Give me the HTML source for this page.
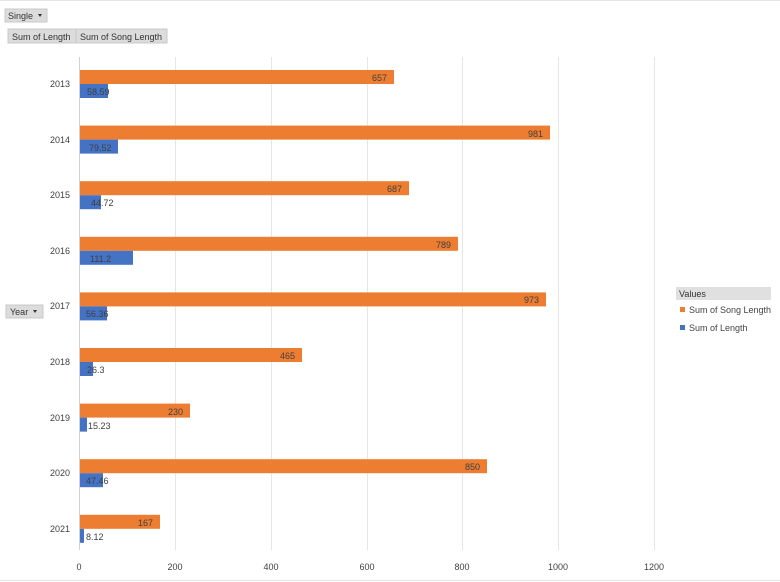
<!DOCTYPE html>
<html><head><meta charset="utf-8"><style>
html,body{margin:0;padding:0;background:#fff;}
svg{display:block;font-family:"Liberation Sans",sans-serif;}
</style></head><body>
<svg width="780" height="582" viewBox="0 0 780 582" xmlns="http://www.w3.org/2000/svg">
<rect width="780" height="582" fill="#fff"/>
<g stroke="#e6e6e6" stroke-width="1">
<line x1="0" y1="0.5" x2="780" y2="0.5"/>
<line x1="0" y1="580.5" x2="780" y2="580.5"/>
<line x1="175.5" y1="57" x2="175.5" y2="550"/>
<line x1="271.5" y1="57" x2="271.5" y2="550"/>
<line x1="367.5" y1="57" x2="367.5" y2="550"/>
<line x1="462.5" y1="57" x2="462.5" y2="550"/>
<line x1="558.5" y1="57" x2="558.5" y2="550"/>
<line x1="654.5" y1="57" x2="654.5" y2="550"/>
</g>
<line x1="79.5" y1="57" x2="79.5" y2="550" stroke="#d0d0d0"/>
<!-- buttons -->
<rect x="5" y="9" width="42" height="13" fill="#dcdcdc" stroke="#c8c8c8"/>
<text x="8" y="19" font-size="9" fill="#333">Single</text>
<path d="M38 14 l4 0 l-2 3z" fill="#333"/>
<rect x="8" y="29" width="68" height="14" fill="#dcdcdc" stroke="#c8c8c8"/>
<text x="12" y="40" font-size="9" fill="#333">Sum of Length</text>
<rect x="76" y="29" width="91" height="14" fill="#dcdcdc" stroke="#c8c8c8"/>
<text x="80" y="40" font-size="9" fill="#333">Sum of Song Length</text>
<rect x="6" y="305" width="37" height="13" fill="#dcdcdc" stroke="#c8c8c8"/>
<text x="10" y="315" font-size="9" fill="#333">Year</text>
<path d="M33 310 l4 0 l-2 3z" fill="#333"/>
<!-- legend -->
<rect x="676" y="287" width="95" height="13" fill="#e0e0e0"/>
<text x="679" y="297" font-size="9" fill="#333">Values</text>
<rect x="680" y="307" width="5" height="5" fill="#ed7d31"/>
<text x="689" y="313" font-size="9" fill="#444">Sum of Song Length</text>
<rect x="680" y="325" width="5" height="5" fill="#4472c4"/>
<text x="689" y="331" font-size="9" fill="#444">Sum of Length</text>
<g font-size="9" fill="#404040">
<g text-anchor="end">
<text x="70" y="87">2013</text><text x="70" y="143">2014</text><text x="70" y="198">2015</text>
<text x="70" y="254">2016</text><text x="70" y="309">2017</text><text x="70" y="365">2018</text>
<text x="70" y="421">2019</text><text x="70" y="476">2020</text><text x="70" y="532">2021</text>
</g>
<g text-anchor="middle">
<text x="79" y="570">0</text><text x="175" y="570">200</text><text x="271" y="570">400</text>
<text x="367" y="570">600</text><text x="462" y="570">800</text><text x="558" y="570">1000</text>
<text x="654" y="570">1200</text>
</g>
</g>
<g fill="#ed7d31">
<rect x="80" y="70" width="314" height="14"/>
<rect x="80" y="125.6" width="470" height="14"/>
<rect x="80" y="181.2" width="329" height="14"/>
<rect x="80" y="236.8" width="378" height="14"/>
<rect x="80" y="292.4" width="466" height="14"/>
<rect x="80" y="348" width="222" height="14"/>
<rect x="80" y="403.6" width="110" height="14"/>
<rect x="80" y="459.2" width="407" height="14"/>
<rect x="80" y="514.8" width="80" height="14"/>
</g>
<g fill="#4472c4">
<rect x="80" y="84" width="28" height="14"/>
<rect x="80" y="139.6" width="38" height="14"/>
<rect x="80" y="195.2" width="21" height="14"/>
<rect x="80" y="250.8" width="53" height="14"/>
<rect x="80" y="306.4" width="27" height="14"/>
<rect x="80" y="362" width="13" height="14"/>
<rect x="80" y="417.6" width="7" height="14"/>
<rect x="80" y="473.2" width="23" height="14"/>
<rect x="80" y="528.8" width="4" height="14"/>
</g>
<g font-size="9" fill="#404040" text-anchor="end">
<text x="387" y="81">657</text><text x="543" y="137">981</text><text x="402" y="192">687</text>
<text x="451" y="248">789</text><text x="539" y="303">973</text><text x="295" y="359">465</text>
<text x="183" y="415">230</text><text x="480" y="470">850</text><text x="153" y="526">167</text>
</g>
<g font-size="9" fill="#404040">
<text x="87" y="95">58.59</text><text x="89" y="151">79.52</text><text x="91" y="206">44.72</text>
<text x="90" y="262">111.2</text><text x="86" y="317">56.36</text><text x="87" y="373">26.3</text>
<text x="88" y="429">15.23</text><text x="86" y="484">47.46</text><text x="86" y="540">8.12</text>
</g>
</svg>
</body></html>
